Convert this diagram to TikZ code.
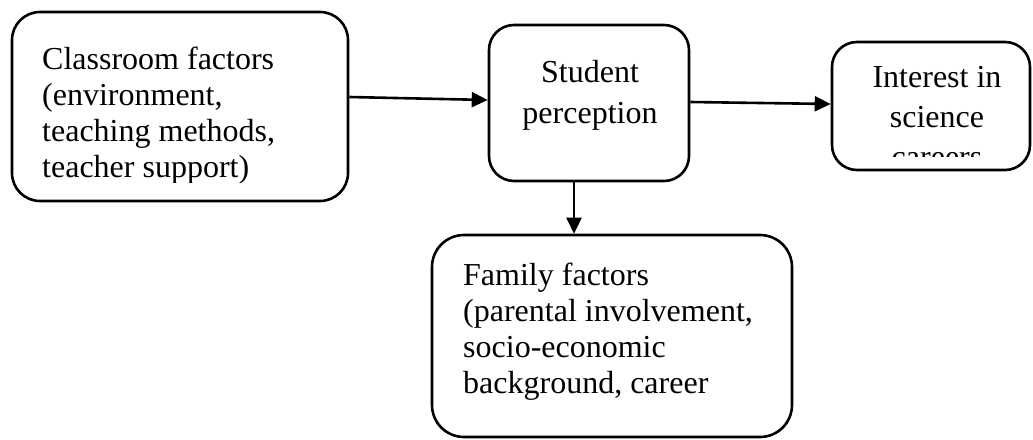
\documentclass[tikz,border=0pt]{standalone}
\usepackage{fontspec}
\setmainfont{Liberation Serif}
\usetikzlibrary{arrows.meta,calc}
\begin{document}
\begin{tikzpicture}[x=1pt,y=-1pt,
  box/.style={draw,line width=2.6pt,rounded corners=#1,inner sep=0pt},
  box/.default=25pt,
  txt/.style={font=\fontsize{32}{36}\selectfont,inner sep=0pt,align=left},
  ctxt/.style={font=\fontsize{32}{41}\selectfont,inner sep=0pt,align=center},
  arr/.style={line width=2.6pt,-{Triangle[length=16pt,width=15pt]}}]
\useasboundingbox (0,0) rectangle (1033,439);

\node[box=28pt,minimum width=336pt,minimum height=189pt] (cls) at (180,106.5) {};
\node[box=25pt,minimum width=200pt,minimum height=156pt] (stu) at (589,103) {};
\node[box=25pt,minimum width=198pt,minimum height=128pt] (int) at (931,106) {};
\node[box=32pt,minimum width=360pt,minimum height=202pt] (fam) at (612,336) {};

\begin{scope}
  \clip (0,0) rectangle (1033,182);
  \node[txt,anchor=base west] (clst) at (42,177)
    {Classroom factors\\(environment,\\teaching methods,\\teacher support)};
\end{scope}

\node[ctxt,anchor=base] (stut) at (590,123) {Student\\perception};

\begin{scope}
  \clip (0,0) rectangle (1033,156);
  \node[ctxt,anchor=base,font=\fontsize{32}{40}\selectfont] (intt) at (937,167)
    {Interest in\\science\\careers};
\end{scope}

\node[txt,anchor=base west] (famt) at (463,393)
  {Family factors\\(parental involvement,\\socio-economic\\background, career};

\draw[arr] ($(cls.east)+(0,-9.5)$) -- ($(stu.west)+(0,-3)$);
\draw[arr] ($(stu.east)+(0,-1)$) -- ($(int.west)+(0,-2)$);
\draw[arr] ($(stu.south)+(-15,0)$) -- ($(fam.north)+(-38,0)$);
\end{tikzpicture}
\end{document}
